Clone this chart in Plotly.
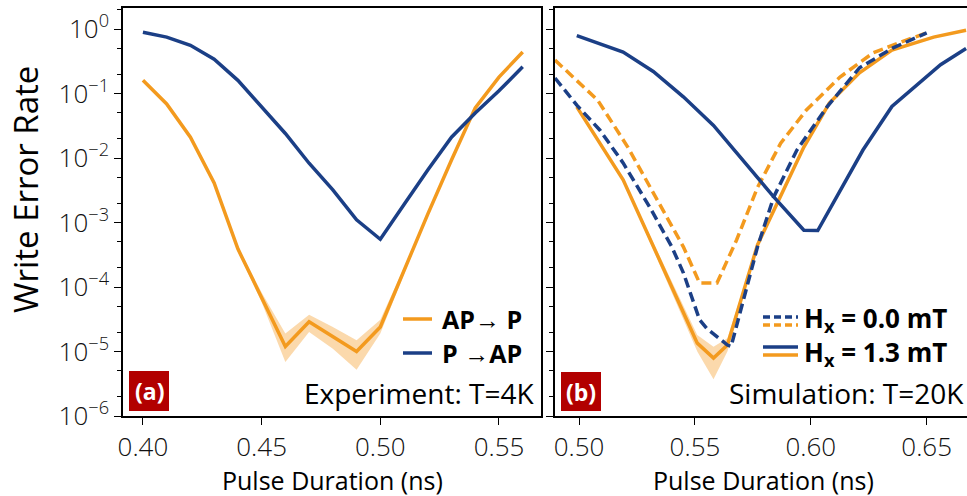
import plotly.graph_objects as go

# ---------------- data ----------------
# Panel (a): experiment
exp_x = [0.40, 0.41, 0.42, 0.43, 0.44, 0.45, 0.46, 0.47, 0.48, 0.49, 0.50, 0.51, 0.52, 0.53, 0.54, 0.55, 0.56]
exp_ap_p = [0.16, 0.069, 0.021, 0.0041, 3.9e-4, 6.9e-5, 1.2e-5, 2.9e-5, 1.7e-5, 1.0e-5, 2.4e-5, 1.8e-4, 1.35e-3, 9.3e-3, 0.06, 0.18, 0.44]
exp_ap_p_lo = [0.157, 0.068, 0.0206, 0.0040, 3.6e-4, 5.8e-5, 6.9e-6, 2.0e-5, 1.1e-5, 5.2e-6, 1.9e-5, 1.6e-4, 1.3e-3, 9.1e-3, 0.059, 0.177, 0.435]
exp_ap_p_hi = [0.163, 0.070, 0.0214, 0.0042, 4.2e-4, 8.2e-5, 1.9e-5, 3.7e-5, 2.4e-5, 1.5e-5, 3.1e-5, 2.0e-4, 1.4e-3, 9.5e-3, 0.061, 0.183, 0.445]
exp_p_ap = [0.89, 0.75, 0.56, 0.34, 0.16, 0.062, 0.024, 0.0083, 0.0032, 1.1e-3, 5.5e-4, 1.9e-3, 6.5e-3, 0.021, 0.05, 0.11, 0.26]

# Panel (b): simulation
sim13_ap_p_x = [0.499, 0.519, 0.551, 0.558, 0.564, 0.577, 0.597, 0.608, 0.621, 0.635, 0.653, 0.667]
sim13_ap_p = [0.062, 0.0046, 1.35e-5, 7.9e-6, 1.26e-5, 4.5e-4, 0.0148, 0.071, 0.21, 0.47, 0.75, 0.96]
sim13_ap_p_lo = [0.061, 0.0045, 1.0e-5, 3.7e-6, 1.0e-5, 4.3e-4, 0.0146, 0.070, 0.207, 0.465, 0.745, 0.955]
sim13_ap_p_hi = [0.063, 0.0047, 1.8e-5, 1.18e-5, 1.6e-5, 4.7e-4, 0.0150, 0.072, 0.213, 0.475, 0.755, 0.965]

sim13_p_ap_x = [0.499, 0.519, 0.532, 0.545, 0.558, 0.571, 0.584, 0.597, 0.603, 0.6225, 0.635, 0.656, 0.667]
sim13_p_ap = [0.79, 0.44, 0.22, 0.089, 0.032, 0.0088, 0.0025, 7.6e-4, 7.5e-4, 0.0133, 0.063, 0.28, 0.50]

sim00_p_ap_x = [0.4896, 0.499, 0.509, 0.519, 0.5306, 0.540, 0.545, 0.552, 0.555, 0.564, 0.5656, 0.577, 0.584, 0.594, 0.607, 0.621, 0.6355, 0.650]
sim00_p_ap = [0.174, 0.066, 0.027, 0.0084, 0.0017, 4.2e-4, 1.66e-4, 3.1e-5, 2.3e-5, 1.26e-5, 1.2e-5, 4.2e-4, 0.0025, 0.0133, 0.062, 0.25, 0.51, 0.87]

sim00_ap_p_x = [0.4896, 0.508, 0.521, 0.534, 0.545, 0.552, 0.5595, 0.568, 0.577, 0.587, 0.598, 0.6126, 0.627, 0.6415, 0.650]
sim00_ap_p = [0.33, 0.079, 0.0148, 0.0022, 4.2e-4, 1.15e-4, 1.15e-4, 5.4e-4, 0.0035, 0.017, 0.055, 0.18, 0.43, 0.68, 0.87]

y_tickvals = [1e-6, 1e-5, 1e-4, 1e-3, 1e-2, 1e-1, 1e0]
y_ticktext = ["10<sup>−6</sup>", "10<sup>−5</sup>", "10<sup>−4</sup>", "10<sup>−3</sup>",
              "10<sup>−2</sup>", "10<sup>−1</sup>", "10<sup>0</sup>"]
xa_ticks = [0.40, 0.45, 0.50, 0.55]
xb_ticks = [0.50, 0.55, 0.60, 0.65]

# ---------------- style ----------------
ORANGE = "#F39A1E"
BLUE = "#1B3F86"
BAND = "rgba(246,170,70,0.45)"
RED = "#B20000"
FONT = "Open Sans"
W, H = 967, 496


def px(x):
    return x / W


def py(y):
    return 1 - y / H


fig = go.Figure()

# ---- panel (a) ----
fig.add_trace(go.Scatter(x=exp_x, y=exp_ap_p_lo, mode="lines", line=dict(width=0),
                         hoverinfo="skip", showlegend=False, xaxis="x", yaxis="y"))
fig.add_trace(go.Scatter(x=exp_x, y=exp_ap_p_hi, mode="lines", line=dict(width=0),
                         fill="tonexty", fillcolor=BAND, hoverinfo="skip",
                         showlegend=False, xaxis="x", yaxis="y"))
fig.add_trace(go.Scatter(x=exp_x, y=exp_ap_p, mode="lines", line=dict(color=ORANGE, width=3.5),
                         name="AP→P", showlegend=False, xaxis="x", yaxis="y"))
fig.add_trace(go.Scatter(x=exp_x, y=exp_p_ap, mode="lines", line=dict(color=BLUE, width=3.5),
                         name="P→AP", showlegend=False, xaxis="x", yaxis="y"))

# ---- panel (b) ----
fig.add_trace(go.Scatter(x=sim13_ap_p_x, y=sim13_ap_p_lo, mode="lines", line=dict(width=0),
                         hoverinfo="skip", showlegend=False, xaxis="x2", yaxis="y2"))
fig.add_trace(go.Scatter(x=sim13_ap_p_x, y=sim13_ap_p_hi, mode="lines", line=dict(width=0),
                         fill="tonexty", fillcolor=BAND, hoverinfo="skip",
                         showlegend=False, xaxis="x2", yaxis="y2"))
fig.add_trace(go.Scatter(x=sim13_ap_p_x, y=sim13_ap_p, mode="lines",
                         line=dict(color=ORANGE, width=3.5), showlegend=False,
                         xaxis="x2", yaxis="y2"))
fig.add_trace(go.Scatter(x=sim00_ap_p_x, y=sim00_ap_p, mode="lines",
                         line=dict(color=ORANGE, width=3.5, dash="10px,5px"), showlegend=False,
                         xaxis="x2", yaxis="y2"))
fig.add_trace(go.Scatter(x=sim00_p_ap_x, y=sim00_p_ap, mode="lines",
                         line=dict(color=BLUE, width=3.5, dash="10px,5px"), showlegend=False,
                         xaxis="x2", yaxis="y2"))
fig.add_trace(go.Scatter(x=sim13_p_ap_x, y=sim13_p_ap, mode="lines",
                         line=dict(color=BLUE, width=3.5), showlegend=False,
                         xaxis="x2", yaxis="y2"))

tickfont = dict(family=FONT, size=26, color="#111", weight=300)
common_x = dict(showgrid=False, zeroline=False, showline=True, linecolor="black", linewidth=1.5,
                ticks="outside", ticklen=7, tickwidth=1.2, tickcolor="black", mirror=True,
                tickfont=tickfont, automargin=False)
common_y = dict(type="log", range=[-6, 0.326], showgrid=False, zeroline=False, showline=True,
                linecolor="black", linewidth=1.5, ticks="outside", ticklen=7, tickwidth=1.2,
                tickcolor="black", tickvals=y_tickvals, automargin=False,
                minor=dict(ticks="outside", ticklen=4, tickwidth=1, tickcolor="black", showgrid=False))

fig.update_layout(
    width=W, height=H, autosize=False,
    margin=dict(l=0, r=0, t=0, b=0, pad=0, autoexpand=False),
    paper_bgcolor="white", plot_bgcolor="white",
    font=dict(family=FONT, color="black"),
    showlegend=False,
    xaxis=dict(domain=[px(123), px(541)], range=[0.3916, 0.5677], anchor="y",
               tickvals=xa_ticks, ticktext=["0.40", "0.45", "0.50", "0.55"], **common_x),
    yaxis=dict(domain=[py(416), py(8)], anchor="x", mirror=True, ticktext=y_ticktext,
               tickfont=tickfont, **common_y),
    xaxis2=dict(domain=[px(555), 1.0], range=[0.4896, 0.6674], anchor="y2",
                tickvals=xb_ticks, ticktext=["0.50", "0.55", "0.60", "0.65"], **common_x),
    yaxis2=dict(domain=[py(416), py(8)], anchor="x2", mirror=False, showticklabels=False,
                **common_y),
)


def label(text, x, y, size, xanchor="center", angle=0, color="black"):
    fig.add_annotation(text=text, x=px(x), y=py(y), xref="paper", yref="paper",
                       xanchor=xanchor, yanchor="middle", showarrow=False, textangle=angle,
                       font=dict(family=FONT, size=size, color=color))


# axis titles
label("Write Error Rate", 25, 190, 33, angle=-90)
label("Pulse Duration (ns)", 332, 480, 25)
label("Pulse Duration (ns)", 763, 480, 25)

# condition labels
label("Experiment: T=4K", 536, 393, 28, xanchor="right")
label("Simulation: T=20K", 966, 393, 28, xanchor="right")

# panel tags
for (x0, x1, y0, y1, t) in [(129, 169, 371, 411, "(a)"), (561, 601, 372, 411, "(b)")]:
    fig.add_shape(type="rect", xref="paper", yref="paper", x0=px(x0), x1=px(x1), y0=py(y1), y1=py(y0),
                  fillcolor=RED, line=dict(width=0))
    label("<b>" + t + "</b>", (x0 + x1) / 2, (y0 + y1) / 2, 23, color="white")

# legend (a)
for (yy, col, txt) in [(319, ORANGE, "AP→ P"), (353, BLUE, "P →AP")]:
    fig.add_shape(type="line", xref="paper", yref="paper", x0=px(403), x1=px(432), y0=py(yy), y1=py(yy),
                  line=dict(color=col, width=3.5))
    label("<b>" + txt + "</b>", 440, yy, 25, xanchor="left")

# legend (b)
for (yy, col, dash) in [(317, BLUE, "7px,4px"), (325, ORANGE, "7px,4px"), (347, BLUE, "solid"), (355, ORANGE, "solid")]:
    fig.add_shape(type="line", xref="paper", yref="paper", x0=px(763), x1=px(798), y0=py(yy), y1=py(yy),
                  line=dict(color=col, width=3.5, dash=dash))
for (yy, txt) in [(319, "H<sub>x</sub> = 0.0 mT"), (353, "H<sub>x</sub> = 1.3 mT")]:
    label("<b>" + txt + "</b>", 802, yy, 26, xanchor="left")

fig.write_html(
    "out.html",
    config={"displayModeBar": False},
    post_script="document.body.style.margin='0';document.body.style.padding='0';"
                "document.body.style.overflow='hidden';",
)
